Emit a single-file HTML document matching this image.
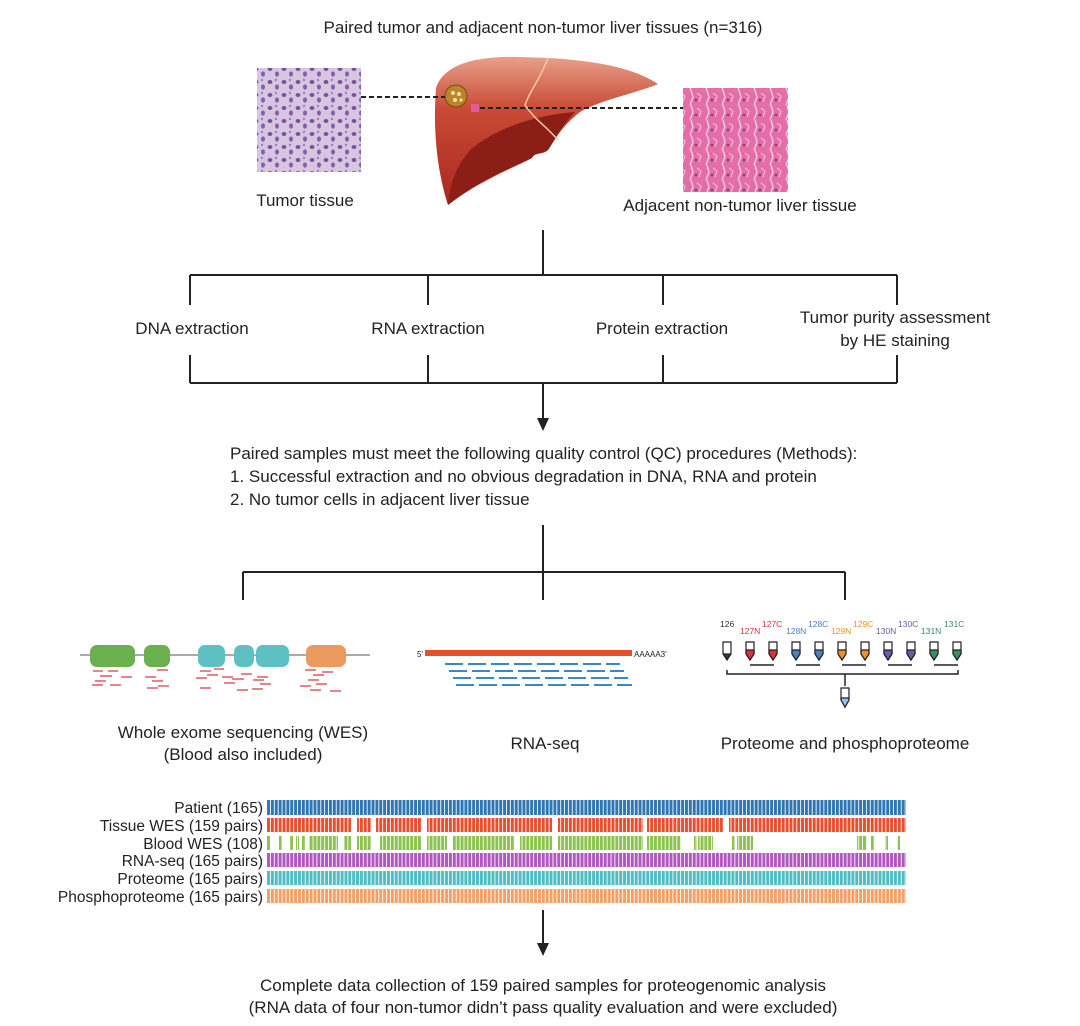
<!DOCTYPE html>
<html><head><meta charset="utf-8"><style>
html,body{margin:0;padding:0;background:#fff;}
svg{display:block;font-family:"Liberation Sans",Arial,sans-serif;}
</style></head><body>
<svg width="1080" height="1026" viewBox="0 0 1080 1026" xmlns="http://www.w3.org/2000/svg">
<defs>
<pattern id="tum" width="14" height="13" patternUnits="userSpaceOnUse">
<rect width="14" height="13" fill="#d7c6e0"/>
<ellipse cx="4" cy="4" rx="2.4" ry="2" fill="#7b4fa0"/>
<ellipse cx="11" cy="9" rx="2" ry="2.6" fill="#8a5cb0"/>
<circle cx="10" cy="2" r="1.2" fill="#a07cc0"/>
</pattern>
<pattern id="adj" width="16" height="15" patternUnits="userSpaceOnUse">
<rect width="16" height="15" fill="#e46fa8"/>
<path d="M3 0 L5 7 L2 15" stroke="#f5d0e2" stroke-width="1.4" fill="none"/>
<path d="M9 3 L13 6 L11 12" stroke="#f3c6dc" stroke-width="1" fill="none"/>
<circle cx="8" cy="10" r="1.4" fill="#8a3d8f"/>
</pattern>
<linearGradient id="liv" x1="0" y1="0" x2="0" y2="1">
<stop offset="0" stop-color="#e8a08a"/><stop offset="0.35" stop-color="#c94a35"/><stop offset="1" stop-color="#a8281e"/>
</linearGradient>
<pattern id="s-blue" width="3.87" height="20" patternUnits="userSpaceOnUse"><rect width="3" height="20" fill="#2f76b5"/></pattern>
<pattern id="s-red" width="3.87" height="20" patternUnits="userSpaceOnUse"><rect width="3" height="20" fill="#e8502d"/></pattern>
<pattern id="s-green" width="3.87" height="20" patternUnits="userSpaceOnUse"><rect width="3" height="20" fill="#8cc34f"/></pattern>
<pattern id="s-purple" width="3.87" height="20" patternUnits="userSpaceOnUse"><rect width="3" height="20" fill="#b157c0"/></pattern>
<pattern id="s-cyan" width="3.87" height="20" patternUnits="userSpaceOnUse"><rect width="3" height="20" fill="#4fbdc4"/></pattern>
<pattern id="s-orange" width="3.87" height="20" patternUnits="userSpaceOnUse"><rect width="3" height="20" fill="#f2a066"/></pattern>
</defs>

<text x="543" y="33" font-size="17" text-anchor="middle" fill="#222">Paired tumor and adjacent non-tumor liver tissues (n=316)</text>

<rect x="257" y="68" width="104" height="104" fill="url(#tum)"/>
<rect x="683" y="88" width="105" height="104" fill="url(#adj)"/>

<path d="M436 88 C445 62 480 56 520 57 C580 58 630 65 658 84 C640 92 600 100 580 112 C560 128 555 140 548 150 C543 155 535 152 532 158 C520 165 480 180 448 205 C440 180 432 140 436 88 Z" fill="url(#liv)"/>
<path d="M470 150 C500 125 540 115 575 112 C560 128 555 140 548 150 C540 155 535 152 532 158 C510 168 480 180 448 205 C450 180 458 165 470 150Z" fill="#8c1e18"/>
<path d="M548 58 C540 80 530 90 525 105 C535 120 545 125 558 140" stroke="#f3c9a0" stroke-width="1.5" fill="none"/>
<circle cx="456" cy="96" r="11" fill="#b9852a" stroke="#7a4a10"/>
<circle cx="453" cy="93" r="2" fill="#f4e3a0"/><circle cx="459" cy="94" r="2" fill="#f4e3a0"/><circle cx="455" cy="100" r="2" fill="#f4e3a0"/><circle cx="461" cy="100" r="1.6" fill="#f4e3a0"/>
<rect x="471" y="104" width="8" height="8" fill="#e35aa0"/>
<line x1="361" y1="97" x2="445" y2="97" stroke="#222" stroke-width="2" stroke-dasharray="5,3"/>
<line x1="480" y1="108" x2="683" y2="108" stroke="#222" stroke-width="2" stroke-dasharray="5,3"/>

<text x="305" y="206" font-size="17" text-anchor="middle" fill="#222">Tumor tissue</text>
<text x="740" y="211" font-size="17" text-anchor="middle" fill="#222">Adjacent non-tumor liver tissue</text>

<g stroke="#222" stroke-width="2" fill="none">
<line x1="543" y1="230" x2="543" y2="275"/>
<line x1="190" y1="275" x2="897" y2="275"/>
<line x1="190" y1="275" x2="190" y2="305"/><line x1="428" y1="275" x2="428" y2="305"/><line x1="663" y1="275" x2="663" y2="305"/><line x1="897" y1="275" x2="897" y2="305"/>
<line x1="190" y1="355" x2="190" y2="383"/><line x1="428" y1="355" x2="428" y2="383"/><line x1="663" y1="355" x2="663" y2="383"/><line x1="897" y1="355" x2="897" y2="383"/>
<line x1="190" y1="383" x2="897" y2="383"/>
<line x1="543" y1="383" x2="543" y2="420"/>
<line x1="543" y1="525" x2="543" y2="572"/>
<line x1="243" y1="572" x2="845" y2="572"/>
<line x1="243" y1="572" x2="243" y2="600"/><line x1="543" y1="572" x2="543" y2="600"/><line x1="845" y1="572" x2="845" y2="600"/>
<line x1="543" y1="910" x2="543" y2="945"/>
</g>
<polygon points="537,418 549,418 543,431" fill="#222"/>
<polygon points="537,943 549,943 543,956" fill="#222"/>

<g font-size="17" fill="#222" text-anchor="middle">
<text x="192" y="334">DNA extraction</text>
<text x="428" y="334">RNA extraction</text>
<text x="662" y="334">Protein extraction</text>
<text x="895" y="323">Tumor purity assessment</text>
<text x="895" y="346">by HE staining</text>
</g>
<g font-size="17" fill="#222">
<text x="230" y="459">Paired samples must meet the following quality control (QC) procedures (Methods):</text>
<text x="230" y="482">1. Successful extraction and no obvious degradation in DNA, RNA and protein</text>
<text x="230" y="505">2. No tumor cells in adjacent liver tissue</text>
</g>

<!-- WES -->
<line x1="80" y1="655" x2="370" y2="655" stroke="#aaa" stroke-width="2"/>
<rect x="90" y="645" width="45" height="22" rx="7" fill="#6ab04c"/>
<rect x="144" y="645" width="26" height="22" rx="7" fill="#6ab04c"/>
<rect x="198" y="645" width="27" height="22" rx="7" fill="#5fc0c4"/>
<rect x="234" y="645" width="20" height="22" rx="7" fill="#5fc0c4"/>
<rect x="256" y="645" width="33" height="22" rx="7" fill="#5fc0c4"/>
<rect x="306" y="645" width="40" height="22" rx="7" fill="#eb9a5e"/>
<g stroke="#e06470" stroke-width="1.6">
<line x1="93" y1="671" x2="103" y2="671"/><line x1="108" y1="671" x2="118" y2="671"/><line x1="100" y1="676" x2="112" y2="676"/><line x1="121" y1="677" x2="132" y2="677"/><line x1="95" y1="681" x2="106" y2="681"/><line x1="92" y1="685" x2="103" y2="685"/><line x1="110" y1="685" x2="121" y2="685"/>
<line x1="157" y1="670" x2="168" y2="670"/><line x1="145" y1="677" x2="156" y2="677"/><line x1="152" y1="681" x2="163" y2="681"/><line x1="147" y1="688" x2="158" y2="688"/><line x1="158" y1="686" x2="169" y2="686"/>
<line x1="200" y1="671" x2="211" y2="671"/><line x1="214" y1="669" x2="224" y2="669"/><line x1="207" y1="675" x2="218" y2="675"/><line x1="196" y1="678" x2="207" y2="678"/><line x1="222" y1="677" x2="233" y2="677"/><line x1="224" y1="683" x2="235" y2="683"/><line x1="200" y1="688" x2="211" y2="688"/>
<line x1="241" y1="674" x2="252" y2="674"/><line x1="257" y1="677" x2="268" y2="677"/><line x1="232" y1="679" x2="244" y2="679"/><line x1="253" y1="680" x2="264" y2="680"/><line x1="260" y1="684" x2="271" y2="684"/><line x1="237" y1="690" x2="248" y2="690"/><line x1="252" y1="689" x2="263" y2="689"/>
<line x1="305" y1="670" x2="316" y2="670"/><line x1="322" y1="672" x2="333" y2="672"/><line x1="313" y1="675" x2="324" y2="675"/><line x1="308" y1="680" x2="319" y2="680"/><line x1="316" y1="684" x2="327" y2="684"/><line x1="300" y1="686" x2="311" y2="686"/><line x1="310" y1="690" x2="321" y2="690"/><line x1="330" y1="691" x2="341" y2="691"/>
</g>
<!-- RNA -->
<text x="417" y="657" font-size="8" fill="#222">5'</text>
<rect x="425" y="650" width="207" height="6" fill="#e8502d"/>
<text x="634" y="657" font-size="8" fill="#222">AAAAA3'</text>
<g stroke="#3d86c6" stroke-width="2" stroke-dasharray="18,5">
<line x1="445" y1="664" x2="620" y2="664"/>
<line x1="449" y1="671" x2="624" y2="671"/>
<line x1="453" y1="678" x2="628" y2="678"/>
<line x1="456" y1="685" x2="632" y2="685"/>
</g>
<!-- Proteome -->
<g font-size="8.5">
<text x="720" y="627" fill="#333">126</text>
<text x="740" y="634" fill="#d8323e">127N</text><text x="762" y="627" fill="#d8323e">127C</text>
<text x="786" y="634" fill="#4c80bd">128N</text><text x="808" y="627" fill="#4c80bd">128C</text>
<text x="831" y="634" fill="#f0902a">129N</text><text x="853" y="627" fill="#f0902a">129C</text>
<text x="876" y="634" fill="#6a5aa8">130N</text><text x="898" y="627" fill="#6a5aa8">130C</text>
<text x="921" y="634" fill="#3a8e60">131N</text><text x="944" y="627" fill="#3a8e60">131C</text>
</g>
<g stroke="#222" stroke-width="1.2">
<path d="M723 642 h8 v12 l-4 6 l-4 -6 z" fill="#fff"/><path d="M723.5 654 h7 l-3.5 5z" fill="#444"/>
<path d="M746 642 h8 v12 l-4 6 l-4 -6 z" fill="#fff"/><path d="M746 650 h8 v4 l-4 6 l-4-6z" fill="#d8323e"/>
<path d="M769 642 h8 v12 l-4 6 l-4 -6 z" fill="#fff"/><path d="M769 650 h8 v4 l-4 6 l-4-6z" fill="#d8323e"/>
<path d="M792 642 h8 v12 l-4 6 l-4 -6 z" fill="#fff"/><path d="M792 650 h8 v4 l-4 6 l-4-6z" fill="#4c80bd"/>
<path d="M815 642 h8 v12 l-4 6 l-4 -6 z" fill="#fff"/><path d="M815 650 h8 v4 l-4 6 l-4-6z" fill="#4c80bd"/>
<path d="M838 642 h8 v12 l-4 6 l-4 -6 z" fill="#fff"/><path d="M838 650 h8 v4 l-4 6 l-4-6z" fill="#f0902a"/>
<path d="M861 642 h8 v12 l-4 6 l-4 -6 z" fill="#fff"/><path d="M861 650 h8 v4 l-4 6 l-4-6z" fill="#f0902a"/>
<path d="M884 642 h8 v12 l-4 6 l-4 -6 z" fill="#fff"/><path d="M884 650 h8 v4 l-4 6 l-4-6z" fill="#6a5aa8"/>
<path d="M907 642 h8 v12 l-4 6 l-4 -6 z" fill="#fff"/><path d="M907 650 h8 v4 l-4 6 l-4-6z" fill="#6a5aa8"/>
<path d="M930 642 h8 v12 l-4 6 l-4 -6 z" fill="#fff"/><path d="M930 650 h8 v4 l-4 6 l-4-6z" fill="#3a8e60"/>
<path d="M953 642 h8 v12 l-4 6 l-4 -6 z" fill="#fff"/><path d="M953 650 h8 v4 l-4 6 l-4-6z" fill="#3a8e60"/>
<path d="M841 688 h8 v12 l-4 7 l-4 -7 z" fill="#fff"/><path d="M841 698 h8 v2 l-4 7 l-4-7z" fill="#8cc4ec"/>
</g>
<g stroke="#222" stroke-width="1.5" fill="none">
<line x1="750" y1="665" x2="774" y2="665"/><line x1="796" y1="665" x2="820" y2="665"/><line x1="842" y1="665" x2="866" y2="665"/><line x1="888" y1="665" x2="912" y2="665"/><line x1="934" y1="665" x2="958" y2="665"/>
<path d="M727 670 v4 h231 v-4"/><line x1="845" y1="674" x2="845" y2="686"/>
</g>

<g font-size="17" fill="#222" text-anchor="middle">
<text x="243" y="738">Whole exome sequencing (WES)</text>
<text x="243" y="760">(Blood also included)</text>
<text x="545" y="749">RNA-seq</text>
<text x="845" y="749">Proteome and phosphoproteome</text>
</g>

<g font-size="15.5" fill="#222" text-anchor="end">
<text x="263" y="813">Patient (165)</text>
<text x="263" y="831">Tissue WES (159 pairs)</text>
<text x="263" y="849">Blood WES (108)</text>
<text x="263" y="866">RNA-seq (165 pairs)</text>
<text x="263" y="884">Proteome (165 pairs)</text>
<text x="263" y="902">Phosphoproteome (165 pairs)</text>
</g>
<rect x="267" y="800" width="639" height="15" fill="url(#s-blue)"/>
<g fill="url(#s-red)">
<rect x="267" y="818" width="84" height="14"/><rect x="357" y="818" width="14" height="14"/><rect x="376" y="818" width="45" height="14"/><rect x="427" y="818" width="125" height="14"/><rect x="558" y="818" width="85" height="14"/><rect x="647" y="818" width="76" height="14"/><rect x="729" y="818" width="177" height="14"/>
</g>
<g fill="url(#s-green)">
<rect x="267" y="836" width="3" height="14"/><rect x="279" y="836" width="3" height="14"/><rect x="290" y="836" width="3" height="14"/><rect x="296" y="836" width="3" height="14"/><rect x="302" y="836" width="3" height="14"/><rect x="309" y="836" width="29" height="14"/><rect x="344" y="836" width="7" height="14"/><rect x="357" y="836" width="14" height="14"/><rect x="380" y="836" width="41" height="14"/><rect x="427" y="836" width="20" height="14"/><rect x="453" y="836" width="61" height="14"/><rect x="520" y="836" width="32" height="14"/><rect x="558" y="836" width="85" height="14"/><rect x="647" y="836" width="34" height="14"/><rect x="694" y="836" width="3" height="14"/><rect x="698" y="836" width="15" height="14"/><rect x="732" y="836" width="3" height="14"/><rect x="737" y="836" width="16" height="14"/><rect x="857" y="836" width="10" height="14"/><rect x="871" y="836" width="3" height="14"/><rect x="885" y="836" width="3" height="14"/><rect x="897" y="836" width="3" height="14"/>
</g>
<rect x="267" y="853" width="639" height="14" fill="url(#s-purple)"/>
<rect x="267" y="871" width="639" height="14" fill="url(#s-cyan)"/>
<rect x="267" y="889" width="639" height="14" fill="url(#s-orange)"/>

<g font-size="17" fill="#222" text-anchor="middle">
<text x="543" y="991">Complete data collection of 159 paired samples for proteogenomic analysis</text>
<text x="543" y="1013">(RNA data of four non-tumor didn’t pass quality evaluation and were excluded)</text>
</g>
</svg>
</body></html>
